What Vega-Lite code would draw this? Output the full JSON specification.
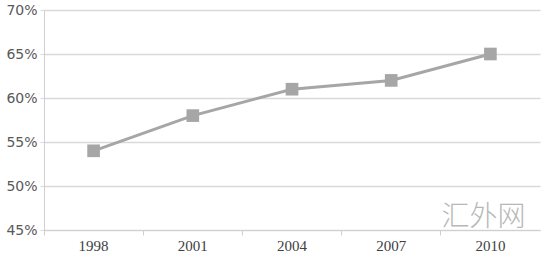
{
  "$schema": "https://vega.github.io/schema/vega-lite/v6.json",
  "width": 496,
  "height": 220,
  "autosize": {"type": "none"},
  "padding": {"left": 44, "top": 10, "right": 7, "bottom": 30},
  "background": "white",
  "config": {"view": {"stroke": null}},
  "data": {"values": [
    {"year": "1998", "share": 0.54},
    {"year": "2001", "share": 0.58},
    {"year": "2004", "share": 0.61},
    {"year": "2007", "share": 0.62},
    {"year": "2010", "share": 0.65}
  ]},
  "encoding": {
    "x": {"field": "year", "type": "ordinal",
      "scale": {"type": "band", "paddingInner": 0, "paddingOuter": 0},
      "axis": {"title": null, "bandPosition": 0, "labelAngle": 0, "domainColor": "#d0d0d0", "tickColor": "#d0d0d0", "tickSize": 5, "labelFont": "Liberation Serif", "labelFontSize": 15, "labelColor": "#404040", "labelPadding": 3, "grid": false}},
    "y": {"field": "share", "type": "quantitative",
      "scale": {"domain": [0.45, 0.70], "nice": false, "zero": false},
      "axis": {"title": null, "format": ".0%", "values": [0.45, 0.5, 0.55, 0.6, 0.65, 0.7], "grid": true, "gridColor": "#d9d9d9", "gridWidth": 1.5, "domainColor": "#d0d0d0", "tickColor": "#d9d9d9", "tickSize": 4, "labelFont": "DejaVu Sans", "labelFontSize": 14, "labelColor": "#595959", "labelPadding": 3}}
  },
  "layer": [
    {"mark": {"type": "line", "color": "#a6a6a6", "strokeWidth": 3}},
    {"mark": {"type": "point", "shape": "square", "filled": true, "color": "#a6a6a6", "size": 160, "opacity": 1}},
    {"data": {"values": [{"year": "2010", "share": 0.45, "label": "汇外网"}]},
     "mark": {"type": "text", "font": "Noto Sans CJK SC", "fontSize": 28, "fontWeight": 300, "color": "#9a9a9a", "opacity": 0.7, "dy": -12, "dx": -7},
     "encoding": {"text": {"field": "label"}}}
  ]
}
